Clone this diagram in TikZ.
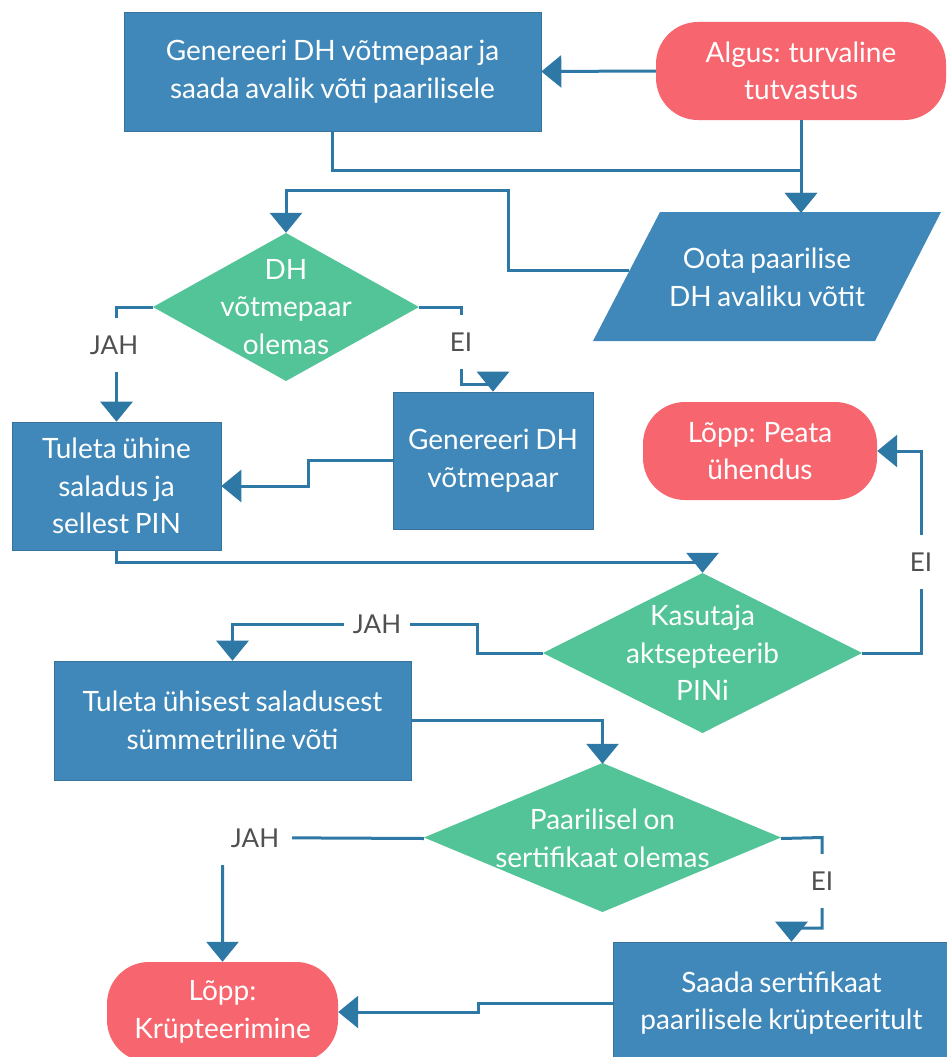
\documentclass[tikz,border=0pt]{standalone}
\usepackage{fontspec}
\setmainfont{Lato}[WordSpace=0.8]
\usetikzlibrary{arrows.meta}
\definecolor{boxblue}{HTML}{3F88B9}
\definecolor{lineblue}{HTML}{2E78A6}
\definecolor{termred}{HTML}{F7666F}
\definecolor{decgreen}{HTML}{52C498}
\definecolor{labgray}{HTML}{505050}
\begin{document}
\begin{tikzpicture}[x=1pt,y=-1pt,
 txt/.style={text=white, font=\fontsize{28}{37.5}\selectfont, align=center, inner sep=0pt},
 procbox/.style={txt, fill=boxblue, draw=boxblue!85!black, line width=0.6pt},
 term/.style={txt, fill=termred, rounded corners=42pt},
 conn/.style={draw=lineblue, line width=3pt, -{Triangle[length=20pt,width=32pt]}},
 lab/.style={fill=white, text=labgray, font=\fontsize{26}{28}\selectfont, inner xsep=9pt, minimum height=54pt}
]
\useasboundingbox[fill=white] (0,0) rectangle (947,1057);

\node[procbox, minimum width=417pt, minimum height=119pt] (A) at (332.5,71.5) {Genereeri DH võtmepaar ja\\saada avalik võti paarilisele};
\node[term, minimum width=290pt, minimum height=98pt] (S) at (801,71) {Algus: turvaline\\tutvastus};
\fill[boxblue] (660,212) -- (941,212) -- (875,341) -- (593,341) -- cycle;
\node[txt, minimum width=214pt, minimum height=129pt] (P) at (767,277.5) {Oota paarilise\\DH avaliku võtit};
\coordinate (Pw) at (629,270);

\fill[decgreen] (286,233) -- (419,307) -- (286,381) -- (153,307) -- cycle;
\node[txt, minimum width=266pt, minimum height=148pt] (D1) at (286,307) {DH\\võtmepaar\\olemas};

\node[procbox, minimum width=209pt, minimum height=128pt] (B5) at (116.5,486) {Tuleta ühine\\saladus ja\\sellest PIN};
\node[procbox, minimum width=200pt, minimum height=137pt] (B6) at (493,460.5) {Genereeri DH\\võtmepaar};
\node[term, minimum width=234pt, minimum height=98pt] (T7) at (760,451) {Lõpp: Peata\\ühendus};

\fill[decgreen] (702.5,573) -- (862,653) -- (702.5,733) -- (543,653) -- cycle;
\node[txt, minimum width=319pt, minimum height=160pt] (D2) at (702.5,653) {Kasutaja\\aktsepteerib\\PINi};

\node[procbox, minimum width=357pt, minimum height=119pt] (B9) at (232.5,720.5) {Tuleta ühisest saladusest\\sümmetriline võti};

\fill[decgreen] (602.5,763) -- (781,837.5) -- (602.5,912) -- (424,837.5) -- cycle;
\node[txt, minimum width=357pt, minimum height=149pt] (D3) at (602.5,838.5) {Paarilisel on\\sertifikaat olemas};

\node[term, minimum width=231pt, minimum height=100pt] (T11) at (222.5,1012) {Lõpp:\\Krüpteerimine};
\node[procbox, minimum width=337pt, minimum height=122pt] (B12) at (781.5,1003) {Saada sertifikaat\\paarilisele krüpteeritult};

% connectors
\draw[conn] (S.west) -- (A.east);
\draw[conn] (S.south) -- (S.south |- P.north);
\draw[conn] (A.south) -- ++(0,39) -| (S.south |- P.north);
\draw[conn] (Pw) -| (508,190) -| (D1.north);
\draw[conn] (D1.west) -| (B5.north);
\draw[conn] (D1.east) -- (461,307) -- (461,384) -| (B6.north);
\draw[conn] (B6.west) -- (308,460.5) |- (B5.east);
\draw[conn] (B5.south) -- ++(0,12) -| (D2.north);
\draw[conn] (D2.east) -- (921,653) |- (T7.east);
\draw[conn] (D2.west) -- (477,653) -- (477,624) -| (B9.north);
\draw[conn] (B9.east) -| (D3.north);
\draw[conn] (D3.west) -- (222.5,837.5) -- (T11.north);
\draw[conn] (D3.east) -- (822,837.5) -- (822,928) -| ([xshift=10pt]B12.north);
\draw[conn] (B12.west) -- (478,1003) |- (T11.east);

% labels
\node[lab] (l1) at (114,345) {JAH};
\node[lab] (l2) at (461,342) {EI};
\node[lab] (l3) at (921,562) {EI};
\node[lab] (l4) at (377,624) {JAH};
\node[lab, minimum width=74pt, minimum height=54pt] (l5) at (255,838) {JAH};
\node[lab] (l6) at (822,881) {EI};
\end{tikzpicture}
\end{document}
